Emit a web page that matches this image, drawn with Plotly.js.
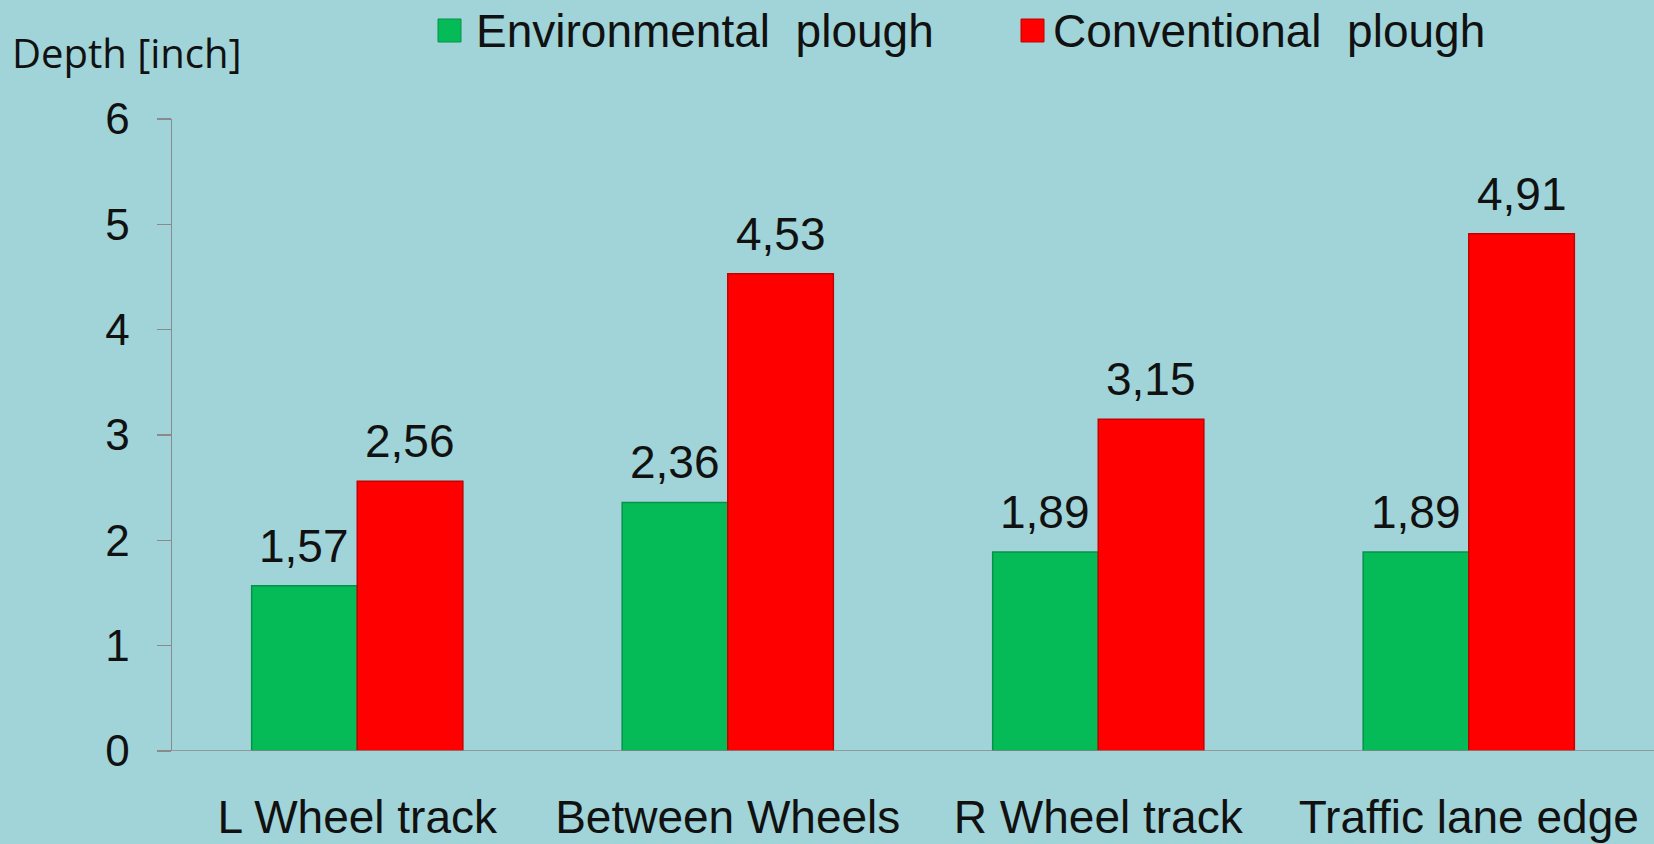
<!DOCTYPE html>
<html>
<head>
<meta charset="utf-8">
<script src="https://cdn.plot.ly/plotly-3.0.1.min.js"></script>
<style>html,body{margin:0;padding:0;background:#a0d4d8;}#chart{width:1654px;height:844px;}</style>
</head>
<body>
<div id="chart"></div>
<script>
// ---- data ----
var categories = ["L Wheel track", "Between Wheels", "R Wheel track", "Traffic lane edge"];
var environmental = [1.57, 2.36, 1.89, 1.89];
var conventional = [2.56, 4.53, 3.15, 4.91];
var seriesNames = ["Environmental plough", "Conventional plough"];
var yTicks = [0, 1, 2, 3, 4, 5, 6];
var yTitle = "Depth [inch]";

// ---- layout helpers (pixel -> paper) ----
var W = 1654, H = 844;
var M = {l: 172, r: 0, t: 119, b: 93};
var PW = W - M.l - M.r, PH = H - M.t - M.b;
function px(x) { return (x - M.l) / PW; }
function py(y) { return (H - M.b - y) / PH; }

var green = '#05bb57', red = '#ff0000';
var FONT = 'Liberation Sans, Arial, sans-serif';
var BARGAP = 0.43;
var barW = (PW / categories.length) * (1 - BARGAP) / 2;

var traces = [
  {type: 'bar', name: seriesNames[0], x: categories, y: environmental,
   marker: {color: green, line: {color: '#07924a', width: 1.5}}},
  {type: 'bar', name: seriesNames[1], x: categories, y: conventional,
   marker: {color: red, line: {color: '#c40000', width: 1.5}}}
];

var shapes = [], annotations = [];
function fmt(v) { return v.toFixed(2).replace('.', ','); }
[environmental, conventional].forEach(function(series, si) {
  series.forEach(function(v, i) {
    annotations.push({xref: 'x', yref: 'y', x: categories[i], y: v,
      xshift: (si === 0 ? -1 : 1) * barW / 2, yshift: 12,
      xanchor: 'center', yanchor: 'bottom', showarrow: false, text: fmt(v),
      font: {family: FONT, size: 46, color: '#111'}});
  });
});

var legendItems = [
  {name: seriesNames[0], color: green, line: '#07924a', sx: 438, tx: 474},
  {name: seriesNames[1], color: red, line: '#c40000', sx: 1021, tx: 1051}
];
legendItems.forEach(function(it) {
  shapes.push({type: 'rect', xref: 'paper', yref: 'paper',
    x0: px(it.sx), x1: px(it.sx + 23), y0: py(42), y1: py(19),
    fillcolor: it.color, line: {color: it.line, width: 1}});
  annotations.push({xref: 'paper', yref: 'paper', x: px(it.tx), y: py(31),
    xanchor: 'left', yanchor: 'middle', showarrow: false,
    text: it.name.replace(' ', '\u00a0\u00a0'),
    font: {family: FONT, size: 46, color: '#111'}});
});
annotations.push({xref: 'paper', yref: 'paper', x: px(10), y: py(52),
  xanchor: 'left', yanchor: 'middle', showarrow: false, text: yTitle,
  font: {family: 'Open Sans, sans-serif', size: 40, color: '#111'}});

var layout = {
  width: W, height: H,
  margin: M,
  paper_bgcolor: '#a0d4d8', plot_bgcolor: '#a0d4d8',
  showlegend: false,
  barmode: 'group', bargap: BARGAP, bargroupgap: 0,
  font: {family: FONT, color: '#111'},
  xaxis: {type: 'category', range: [-0.5, 3.5], showgrid: false, zeroline: false,
    showline: false, ticks: '', tickfont: {family: FONT, size: 46, color: '#111'},
    ticklabelstandoff: 35},
  yaxis: {range: [0, 6], tickvals: yTicks, showgrid: false, zeroline: false,
    showline: true, linecolor: '#8a8a8a', linewidth: 1.5,
    ticks: 'outside', ticklen: 14, tickcolor: '#8a8a8a', tickwidth: 1.5,
    tickfont: {family: FONT, size: 44, color: '#111'}, ticklabelstandoff: 18},
  shapes: shapes.concat([{type: 'line', xref: 'paper', yref: 'y',
    x0: px(159), x1: 1, y0: 0, y1: 0, line: {color: '#8a8a8a', width: 1.5}}]),
  annotations: annotations
};

Plotly.newPlot('chart', traces, layout, {displayModeBar: false, staticPlot: true});
</script>
</body>
</html>
